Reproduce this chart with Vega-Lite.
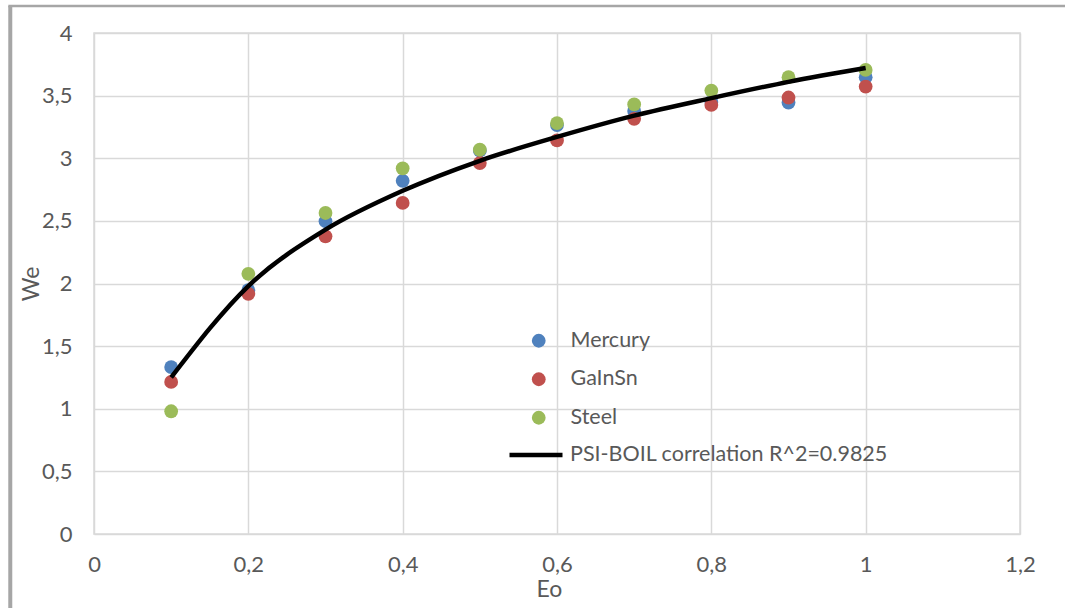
{
  "$schema": "https://vega.github.io/schema/vega-lite/v6.json",
  "width": 926,
  "height": 501,
  "autosize": {"type": "none"},
  "padding": {"left": 94, "top": 33, "right": 45, "bottom": 74},
  "background": "white",
  "config": {
    "font": "Lato",
    "view": {"stroke": "#d9d9d9", "strokeWidth": 1.5},
    "axis": {
      "grid": true,
      "gridColor": "#d9d9d9",
      "gridWidth": 1.5,
      "domain": false,
      "ticks": false,
      "labelFlush": false,
      "labelColor": "#595959",
      "labelFontSize": 22,
      "titleColor": "#595959",
      "titleFontSize": 23,
      "titleFontWeight": "normal",
      "labelExpr": "replace(format(datum.value, '~g'), '.', ',')"
    },
    "legend": {
      "labelColor": "#595959",
      "labelFontSize": 21.5,
      "labelLimit": 0,
      "padding": 0,
      "title": null
    }
  },
  "datasets": {
    "points": [
      {"eo": 0.1, "we": 1.333, "series": "Mercury"},
      {"eo": 0.2, "we": 1.947, "series": "Mercury"},
      {"eo": 0.3, "we": 2.497, "series": "Mercury"},
      {"eo": 0.4, "we": 2.82, "series": "Mercury"},
      {"eo": 0.5, "we": 3.06, "series": "Mercury"},
      {"eo": 0.6, "we": 3.265, "series": "Mercury"},
      {"eo": 0.7, "we": 3.378, "series": "Mercury"},
      {"eo": 0.8, "we": 3.45, "series": "Mercury"},
      {"eo": 0.9, "we": 3.445, "series": "Mercury"},
      {"eo": 1.0, "we": 3.647, "series": "Mercury"},
      {"eo": 0.1, "we": 1.214, "series": "GaInSn"},
      {"eo": 0.2, "we": 1.918, "series": "GaInSn"},
      {"eo": 0.3, "we": 2.377, "series": "GaInSn"},
      {"eo": 0.4, "we": 2.643, "series": "GaInSn"},
      {"eo": 0.5, "we": 2.962, "series": "GaInSn"},
      {"eo": 0.6, "we": 3.142, "series": "GaInSn"},
      {"eo": 0.7, "we": 3.315, "series": "GaInSn"},
      {"eo": 0.8, "we": 3.426, "series": "GaInSn"},
      {"eo": 0.9, "we": 3.485, "series": "GaInSn"},
      {"eo": 1.0, "we": 3.572, "series": "GaInSn"},
      {"eo": 0.1, "we": 0.98, "series": "Steel"},
      {"eo": 0.2, "we": 2.077, "series": "Steel"},
      {"eo": 0.3, "we": 2.563, "series": "Steel"},
      {"eo": 0.4, "we": 2.92, "series": "Steel"},
      {"eo": 0.5, "we": 3.068, "series": "Steel"},
      {"eo": 0.6, "we": 3.28, "series": "Steel"},
      {"eo": 0.7, "we": 3.43, "series": "Steel"},
      {"eo": 0.8, "we": 3.54, "series": "Steel"},
      {"eo": 0.9, "we": 3.647, "series": "Steel"},
      {"eo": 1.0, "we": 3.705, "series": "Steel"}
    ],
    "fit": [
      {"eo": 0.1, "we": 1.25, "series": "PSI-BOIL correlation R^2=0.9825"},
      {"eo": 0.2, "we": 1.98, "series": "PSI-BOIL correlation R^2=0.9825"},
      {"eo": 0.3, "we": 2.43, "series": "PSI-BOIL correlation R^2=0.9825"},
      {"eo": 0.4, "we": 2.74, "series": "PSI-BOIL correlation R^2=0.9825"},
      {"eo": 0.5, "we": 2.98, "series": "PSI-BOIL correlation R^2=0.9825"},
      {"eo": 0.6, "we": 3.17, "series": "PSI-BOIL correlation R^2=0.9825"},
      {"eo": 0.7, "we": 3.34, "series": "PSI-BOIL correlation R^2=0.9825"},
      {"eo": 0.8, "we": 3.48, "series": "PSI-BOIL correlation R^2=0.9825"},
      {"eo": 0.9, "we": 3.61, "series": "PSI-BOIL correlation R^2=0.9825"},
      {"eo": 1.0, "we": 3.72, "series": "PSI-BOIL correlation R^2=0.9825"}
    ],
    "one": [{}]
  },
  "layer": [
    {
      "data": {"name": "points"},
      "mark": {"type": "circle", "size": 190, "opacity": 1},
      "encoding": {
        "x": {
          "field": "eo", "type": "quantitative",
          "scale": {"domain": [0, 1.2], "nice": false, "zero": false},
          "axis": {"values": [0, 0.2, 0.4, 0.6, 0.8, 1, 1.2], "title": "Eo", "labelPadding": 20, "titlePadding": 3, "titleX": 455}
        },
        "y": {
          "field": "we", "type": "quantitative",
          "scale": {"domain": [0, 4], "nice": false},
          "axis": {"values": [0, 0.5, 1, 1.5, 2, 2.5, 3, 3.5, 4], "title": "We", "labelPadding": 22, "titlePadding": -2}
        },
        "color": {
          "field": "series", "type": "nominal",
          "scale": {"domain": ["Mercury", "GaInSn", "Steel"], "range": ["#4f81bd", "#c0504d", "#9bbb59"]},
          "legend": {
            "orient": "none", "legendX": 434, "legendY": 297,
            "symbolType": "circle", "symbolSize": 190, "symbolOpacity": 1,
            "labelOffset": 21, "rowPadding": 15.5
          }
        }
      }
    },
    {
      "data": {"name": "fit"},
      "mark": {"type": "line", "interpolate": "monotone", "strokeWidth": 4.5},
      "encoding": {
        "x": {"field": "eo", "type": "quantitative"},
        "y": {"field": "we", "type": "quantitative"},
        "stroke": {
          "field": "series", "type": "nominal",
          "scale": {"range": ["black"]},
          "legend": {
            "orient": "none", "legendX": 413, "legendY": 393,
            "symbolType": "stroke", "symbolSize": 2809, "symbolStrokeWidth": 4.5,
            "labelOffset": 5
          }
        }
      }
    },
    {
      "data": {"name": "one"},
      "mark": {"type": "rule", "color": "#a6a6a6", "strokeWidth": 4},
      "encoding": {
        "x": {"datum": -0.1085, "type": "quantitative"},
        "y": {"datum": 4.215, "type": "quantitative"},
        "y2": {"datum": -0.6}
      }
    },
    {
      "data": {"name": "one"},
      "mark": {"type": "rule", "color": "#a6a6a6", "strokeWidth": 2.5},
      "encoding": {
        "x": {"datum": -0.111, "type": "quantitative"},
        "x2": {"datum": 1.3},
        "y": {"datum": 4.215, "type": "quantitative"}
      }
    }
  ]
}
